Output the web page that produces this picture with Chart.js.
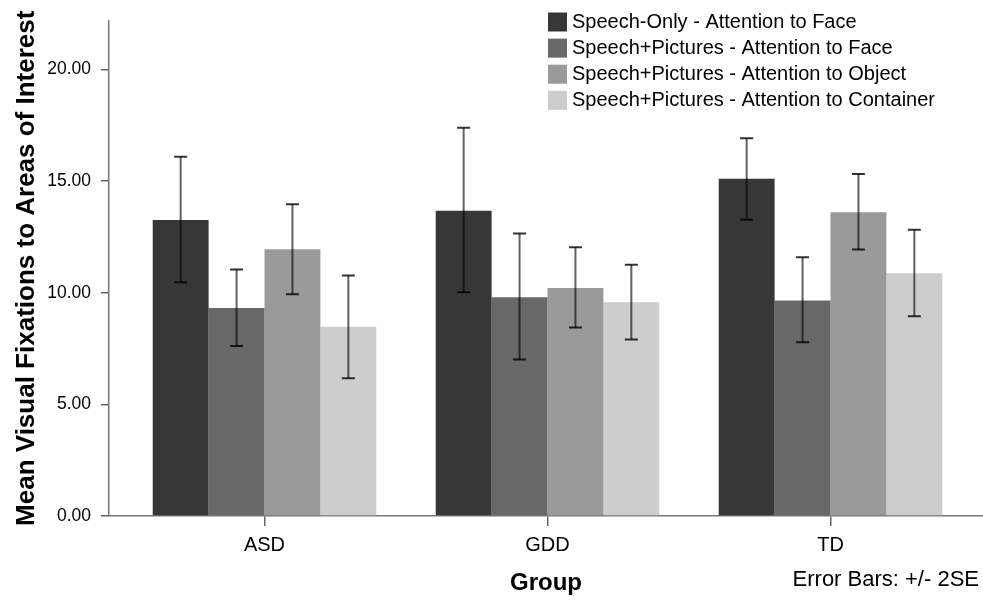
<!DOCTYPE html>
<html>
<head>
<meta charset="utf-8">
<script src="https://cdn.jsdelivr.net/npm/chart.js@4"></script>
<style>
  body { margin: 0; background: #fff; }
</style>
</head>
<body>
<canvas id="chart" width="983" height="600"></canvas>
<script>
const groups = ["ASD", "GDD", "TD"];
const seriesLabels = [
  "Speech-Only - Attention to Face",
  "Speech+Pictures - Attention to Face",
  "Speech+Pictures - Attention to Object",
  "Speech+Pictures - Attention to Container"
];
const seriesColors = ["#373737", "#686868", "#9a9a9a", "#cdcdcd"];

// means
const speechOnlyFace = [13.26, 13.68, 15.11];
const picturesFace = [9.32, 9.80, 9.66];
const picturesObject = [11.95, 10.22, 13.61];
const picturesContainer = [8.48, 9.58, 10.88];

// error bars (+/- 2SE), low and high ends
const speechOnlyFaceLow = [10.47, 10.02, 13.27];
const speechOnlyFaceHigh = [16.10, 17.39, 16.93];
const picturesFaceLow = [7.62, 7.01, 7.78];
const picturesFaceHigh = [11.04, 12.66, 11.59];
const picturesObjectLow = [9.94, 8.44, 11.94];
const picturesObjectHigh = [13.97, 12.04, 15.32];
const picturesContainerLow = [6.17, 7.91, 8.95];
const picturesContainerHigh = [10.77, 11.26, 12.83];

const yTicks = [0, 5, 10, 15, 20];

const means = [speechOnlyFace, picturesFace, picturesObject, picturesContainer];
const lows = [speechOnlyFaceLow, picturesFaceLow, picturesObjectLow, picturesContainerLow];
const highs = [speechOnlyFaceHigh, picturesFaceHigh, picturesObjectHigh, picturesContainerHigh];

const FONT = "'Liberation Sans', Arial, sans-serif";

const errorBars = {
  id: "errorBars",
  afterDatasetsDraw(chart) {
    const ctx = chart.ctx;
    const y = chart.scales.y;
    ctx.save();
    chart.data.datasets.forEach((ds, d) => {
      chart.getDatasetMeta(d).data.forEach((bar, i) => {
        const top = y.getPixelForValue(highs[d][i]);
        const bot = y.getPixelForValue(lows[d][i]);
        ctx.strokeStyle = "rgba(0,0,0,0.62)";
        ctx.lineWidth = 2;
        ctx.beginPath();
        ctx.moveTo(bar.x, top);
        ctx.lineTo(bar.x, bot);
        ctx.stroke();
        ctx.strokeStyle = "rgba(0,0,0,0.8)";
        ctx.beginPath();
        ctx.moveTo(bar.x - 6.5, top);
        ctx.lineTo(bar.x + 6.5, top);
        ctx.moveTo(bar.x - 6.5, bot);
        ctx.lineTo(bar.x + 6.5, bot);
        ctx.stroke();
      });
    });
    ctx.restore();
  }
};

const legendAndNote = {
  id: "legendAndNote",
  afterDraw(chart) {
    const ctx = chart.ctx;
    ctx.save();
    ctx.font = "20px " + FONT;
    ctx.textBaseline = "middle";
    ctx.textAlign = "left";
    chart.data.datasets.forEach((ds, d) => {
      const cy = 21.5 + d * 26.1;
      ctx.fillStyle = ds.backgroundColor;
      ctx.fillRect(548, cy - 9, 19, 19);
      ctx.fillStyle = "#000";
      ctx.fillText(ds.label, 572, cy + 1);
    });
    ctx.font = "22px " + FONT;
    ctx.textAlign = "right";
    ctx.fillText("Error Bars: +/- 2SE", 979, 580);
    ctx.restore();
  }
};

new Chart(document.getElementById("chart"), {
  type: "bar",
  data: {
    datasets: means.map((vals, d) => ({
      label: seriesLabels[d],
      data: vals.map((v, i) => ({ x: i, y: v })),
      backgroundColor: seriesColors[d],
      borderWidth: 0,
      categoryPercentage: 0.79,
      barPercentage: 1.0
    }))
  },
  options: {
    responsive: false,
    animation: false,
    layout: { padding: { top: 13, right: 0, left: 0, bottom: 0 } },
    plugins: {
      legend: { display: false },
      tooltip: { enabled: false }
    },
    scales: {
      x: {
        type: "linear",
        offset: false,
        min: -0.5495,
        max: 2.5389,
        afterBuildTicks: s => { s.ticks = groups.map((g, i) => ({ value: i })); },
        afterFit: s => { s.height = 84; },
        ticks: {
          callback: v => groups[v],
          font: { family: FONT, size: 20 },
          color: "#000",
          padding: 7,
          maxRotation: 0
        },
        grid: { offset: false, drawOnChartArea: false, drawTicks: true, tickLength: 10, color: "#666", lineWidth: 1.5 },
        border: { color: "#777", width: 1.5 },
        title: {
          display: true,
          text: "Group",
          font: { family: FONT, size: 24, weight: "bold" },
          color: "#000",
          padding: { top: 0, bottom: 2 }
        }
      },
      y: {
        min: 0,
        max: 22.2,
        afterBuildTicks: s => { s.ticks = yTicks.map(v => ({ value: v })); },
        afterFit: s => { s.width = 109; },
        ticks: {
          callback: v => v.toFixed(2),
          font: { family: FONT, size: 17.5 },
          color: "#000",
          padding: 10
        },
        grid: { drawOnChartArea: false, drawTicks: true, tickLength: 8, color: "#666", lineWidth: 1.5 },
        border: { color: "#777", width: 1.5 },
        title: {
          display: true,
          text: "Mean Visual Fixations to Areas of Interest",
          font: { family: FONT, size: 26, weight: "bold" },
          color: "#000",
          padding: { top: 11, bottom: 0 }
        }
      }
    }
  },
  plugins: [errorBars, legendAndNote]
});
</script>
</body>
</html>
